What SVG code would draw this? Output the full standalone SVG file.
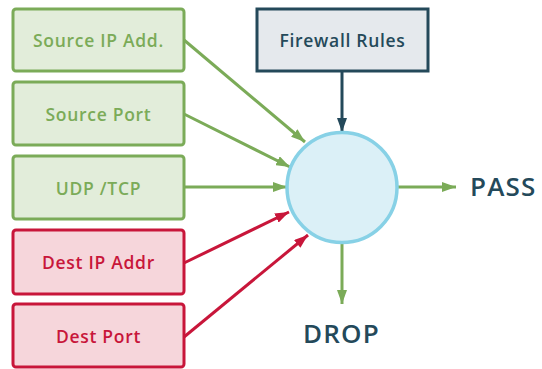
<svg xmlns="http://www.w3.org/2000/svg" width="542" height="369" viewBox="0 0 542 369">
<style>
.g rect{fill:#e2edda;stroke:#7bab58;stroke-width:3}
.r rect{fill:#f6d6db;stroke:#c8163a;stroke-width:3}
.g text{fill:#7bab58}
.r text{fill:#c8163a}
text{font-family:"Open Sans","Liberation Sans",sans-serif;font-size:17.5px;font-weight:600;letter-spacing:0.7px;text-anchor:middle;dominant-baseline:central}
.big{font-size:26px;fill:#24495a;letter-spacing:1.2px;dominant-baseline:alphabetic;text-anchor:start}
.lg{stroke:#7bab58;stroke-width:3;fill:none}
.lr{stroke:#c8163a;stroke-width:3;fill:none}
.ld{stroke:#24495a;stroke-width:3;fill:none}
</style>
<defs>
<marker id="ag" viewBox="0 0 14 10" refX="14" refY="5" markerWidth="14" markerHeight="10" markerUnits="userSpaceOnUse" orient="auto"><path d="M0,0L14,5L0,10z" fill="#7bab58"/></marker>
<marker id="ar" viewBox="0 0 14 10" refX="14" refY="5" markerWidth="14" markerHeight="10" markerUnits="userSpaceOnUse" orient="auto"><path d="M0,0L14,5L0,10z" fill="#c8163a"/></marker>
<marker id="ad" viewBox="0 0 14 10" refX="14" refY="5" markerWidth="14" markerHeight="10" markerUnits="userSpaceOnUse" orient="auto"><path d="M0,0L14,5L0,10z" fill="#24495a"/></marker>
</defs>
<g id="connectors">
<line class="lg" x1="184" y1="40" x2="305" y2="142" marker-end="url(#ag)"/>
<line class="lg" x1="184" y1="114" x2="290" y2="167" marker-end="url(#ag)"/>
<line class="lg" x1="184" y1="187" x2="287" y2="187" marker-end="url(#ag)"/>
<line class="lr" x1="184" y1="263" x2="289" y2="212" marker-end="url(#ar)"/>
<line class="lr" x1="184" y1="337" x2="308" y2="235" marker-end="url(#ar)"/>
<line class="ld" x1="342" y1="71" x2="342" y2="132" marker-end="url(#ad)"/>
<line class="lg" x1="398" y1="187" x2="456" y2="187" marker-end="url(#ag)"/>
<line class="lg" x1="342" y1="243" x2="342" y2="304" marker-end="url(#ag)"/>
</g>
<g id="n-src-ip" class="g"><rect x="13" y="9" width="171" height="62" rx="3"/><text x="98.5" y="40">Source IP Add.</text></g>
<g id="n-src-port" class="g"><rect x="13" y="82" width="171" height="63" rx="3"/><text x="98.5" y="113.5">Source Port</text></g>
<g id="n-udp" class="g"><rect x="13" y="156" width="171" height="63" rx="3"/><text x="98.5" y="187.5">UDP /TCP</text></g>
<g id="n-dst-ip" class="r"><rect x="13" y="230" width="171" height="64" rx="3"/><text x="98.5" y="262">Dest IP Addr</text></g>
<g id="n-dst-port" class="r"><rect x="13" y="304" width="171" height="63" rx="3"/><text x="98.5" y="335.5">Dest Port</text></g>
<g id="n-rules"><rect x="257" y="9" width="171" height="62" fill="#e5e9ed" stroke="#24495a" stroke-width="3"/><text x="342.5" y="40" fill="#24495a">Firewall Rules</text></g>
<g id="n-filter"><circle cx="342" cy="187.5" r="55" fill="#dbf0f7" stroke="#87d1e6" stroke-width="3.5"/></g>
<g id="n-pass"><text class="big" x="470" y="196">PASS</text></g>
<g id="n-drop"><text class="big" x="303" y="343">DROP</text></g>
</svg>
